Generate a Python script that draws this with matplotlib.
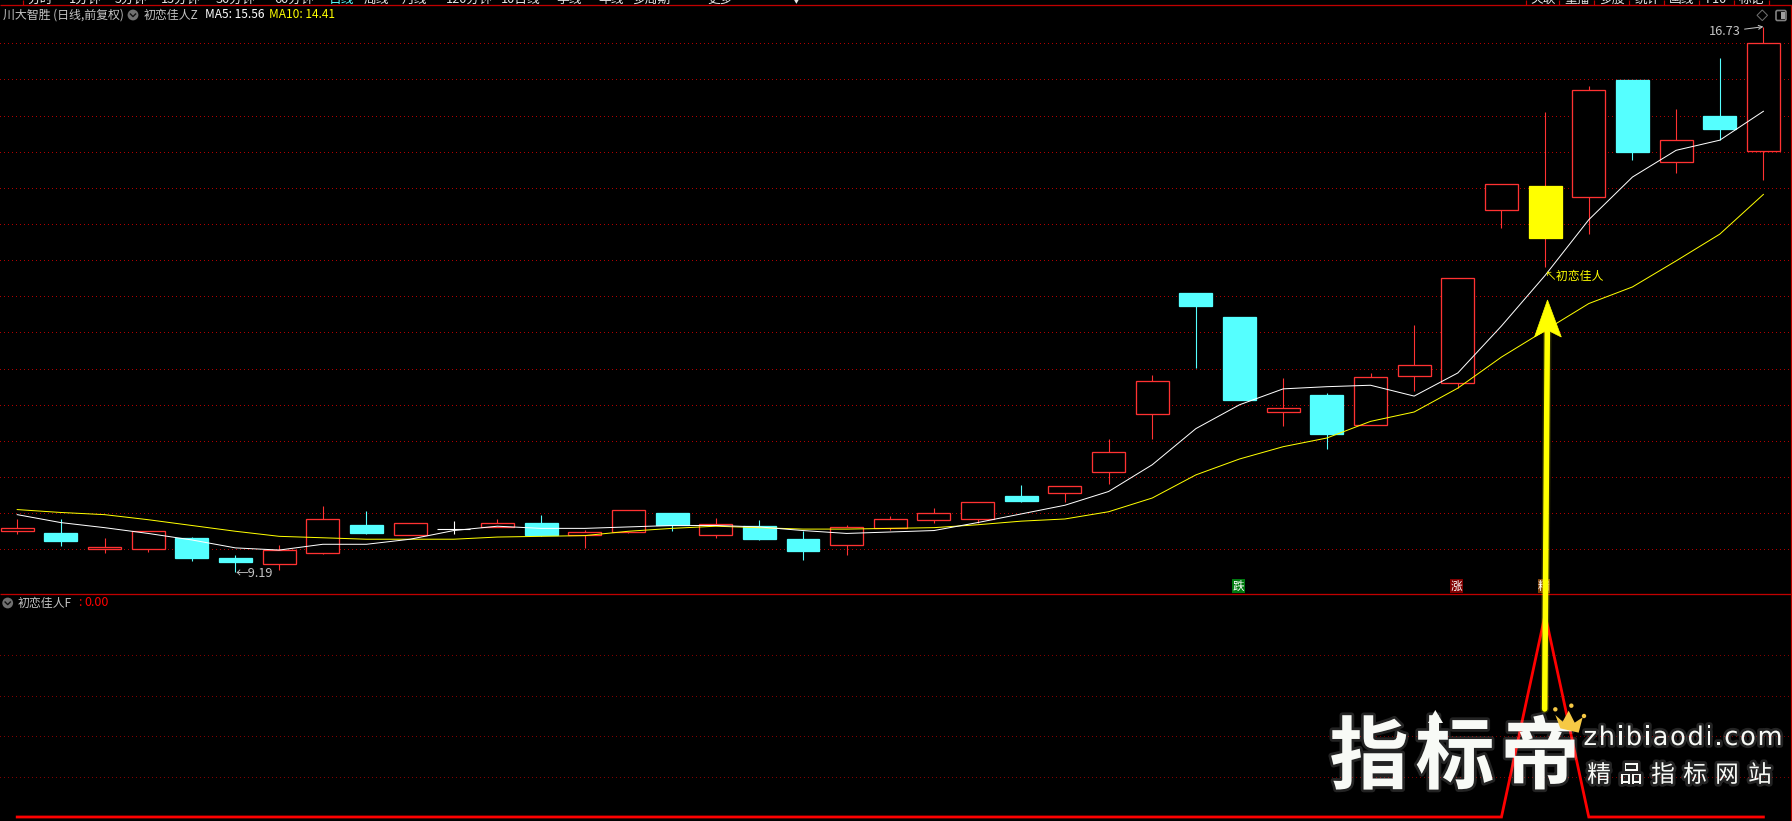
import matplotlib
matplotlib.use("Agg")
import matplotlib.pyplot as plt
import matplotlib.patheffects as pe
from matplotlib.patches import Polygon, Circle, FancyBboxPatch, Rectangle
import numpy as np

plt.rcParams['font.family'] = ['Noto Sans CJK SC', 'DejaVu Sans']

# ---------- data ----------
opens  = [9.76, 9.73, 9.50, 9.51, 9.66, 9.38, 9.30, 9.45, 9.84, 9.70, 9.78, 9.81, 9.86, 9.70,
          9.74, 10.00, 9.70, 9.82, 9.64, 9.56, 9.80, 9.91, 9.92, 10.24, 10.28, 10.57, 11.37,
          13.04, 12.71, 11.40, 11.64, 11.22, 11.90, 11.80, 14.20, 14.53, 14.38, 15.99, 14.86, 15.49, 15.01]
closes = [9.80, 9.62, 9.53, 9.75, 9.38, 9.33, 9.49, 9.92, 9.73, 9.87, 9.78, 9.86, 9.70, 9.74,
          10.05, 9.83, 9.85, 9.64, 9.48, 9.81, 9.92, 10.00, 10.15, 10.17, 10.37, 10.84, 11.83,
          12.86, 11.57, 11.45, 11.10, 11.89, 12.05, 13.25, 14.56, 13.81, 15.85, 15.00, 15.16, 15.31, 16.51]
highs  = [9.92, 9.92, 9.65, 9.75, 9.67, 9.42, 9.56, 10.10, 10.03, 9.87, 9.89, 9.92, 9.98, 9.77,
          10.05, 10.00, 9.93, 9.91, 9.76, 9.84, 9.96, 10.07, 10.15, 10.39, 10.37, 11.02, 11.91,
          13.04, 12.71, 11.87, 11.66, 11.94, 12.60, 13.25, 14.56, 15.55, 15.91, 15.99, 15.59, 16.30, 16.73]
lows   = [9.71, 9.54, 9.45, 9.47, 9.34, 9.19, 9.21, 9.43, 9.71, 9.70, 9.71, 9.81, 9.68, 9.52,
          9.72, 9.76, 9.66, 9.63, 9.35, 9.42, 9.77, 9.86, 9.86, 10.15, 10.16, 10.40, 11.03,
          12.01, 11.57, 11.21, 10.89, 11.22, 11.69, 11.73, 13.95, 13.41, 13.86, 14.89, 14.71, 15.16, 14.61]
ma5    = [9.98, 9.87, 9.80, 9.72, 9.63, 9.52, 9.49, 9.57, 9.57, 9.64, 9.76, 9.82, 9.79, 9.79,
          9.81, 9.83, 9.83, 9.81, 9.76, 9.72, 9.74, 9.76, 9.87, 9.99, 10.11, 10.30, 10.67,
          11.17, 11.50, 11.72, 11.75, 11.77, 11.62, 11.94, 12.59, 13.29, 14.06, 14.65, 15.02, 15.16, 15.56]
ma10   = [10.05, 10.01, 9.98, 9.91, 9.83, 9.75, 9.68, 9.66, 9.64, 9.64, 9.64, 9.67, 9.68, 9.69,
          9.75, 9.79, 9.82, 9.80, 9.78, 9.78, 9.79, 9.80, 9.84, 9.89, 9.92, 10.02, 10.21,
          10.53, 10.75, 10.92, 11.04, 11.27, 11.40, 11.73, 12.16, 12.53, 12.90, 13.13, 13.49, 13.86, 14.41]
signal = [0.0] * 41
signal[35] = 1.0
highlight_index = 35
fall_index, rise_index, best_index = 28, 33, 35
price_grid = [9.5, 10, 10.5, 11, 11.5, 12, 12.5, 13, 13.5, 14, 14.5, 15, 15.5, 16, 16.5]
signal_grid = [0.2, 0.4, 0.6, 0.8]
nav_left = ['分时', '1分钟', '5分钟', '15分钟', '30分钟', '60分钟', '日线', '周线', '月线',
            '120分钟', '10日线', '季线', '年线', '多周期', '更多', '▼']
nav_left_x = [27, 69, 115, 161, 216, 274, 329, 364, 402, 446, 501, 557, 598, 632, 707, 790]
nav_right = ['关联', '重播', '多股', '统计', '画线', 'F10', '标记']

# ---------- constants ----------
W, H = 1792, 821
RED = '#ff3232'
CYAN = '#55ffff'
YEL = '#ffff00'
GRID = '#b00000'
SEP = '#c00000'
GRAY = '#c4c4c4'
PX = 0.72  # one pixel in points at dpi 100

fig = plt.figure(figsize=(W / 100, H / 100), dpi=100, facecolor='black')

def add_axes_px(x0, y0, x1, y1, **kw):
    return fig.add_axes([x0 / W, 1 - y1 / H, (x1 - x0) / W, (y1 - y0) / H], **kw)

# ---------- price pane ----------
RIGHT = 1790.7
ax = add_axes_px(0, 5.3, RIGHT, 594.3, facecolor='black')
step = 43.655
ax.set_xlim(-17.2 / step, (RIGHT - 17.2) / step)
ax.set_ylim(8.878, 17.026)
ax.set_yticks(price_grid)
ax.set_yticks(np.arange(9, 17, 0.25), minor=True)
ax.set_xticks([])
ax.grid(axis='y', which='major', color=GRID, lw=PX, linestyle=(0, (1, 3)), antialiased=False)
ax.yaxis.tick_right()
ax.tick_params(axis='y', which='both', right=True, left=False, labelright=False,
               color=SEP, length=1.5, width=PX, direction='out')
ax.set_axisbelow(True)
for s in ['left', 'top', 'bottom']:
    ax.spines[s].set_visible(False)
ax.spines['right'].set_color(SEP)
ax.spines['right'].set_linewidth(1.2 * PX)

width = 0.755
for i, (o, c, h, l) in enumerate(zip(opens, closes, highs, lows)):
    if i == highlight_index:
        wick, face, edge = RED, YEL, YEL
    elif o == c:
        wick, face, edge = 'white', 'white', 'white'
    elif c > o:
        wick, face, edge = RED, 'black', RED
    else:
        wick, face, edge = CYAN, CYAN, CYAN
    ax.vlines(i, l, h, color=wick, lw=1.1 * PX, zorder=2)
    if o == c:
        ax.hlines(o, i - width / 2, i + width / 2, color='white', lw=1.1 * PX, zorder=3)
    else:
        ax.add_patch(Rectangle((i - width / 2, min(o, c)), width, abs(c - o),
                               facecolor=face, edgecolor=edge, lw=1.3 * PX, zorder=3))

xs = np.arange(len(ma5))
ax.plot(xs, ma10, color=YEL, lw=PX, zorder=4)
ax.plot(xs, ma5, color='white', lw=PX, zorder=5)

ax.annotate('←9.19', xy=(5, min(lows)), xytext=(0, -2), textcoords='offset pixels',
            color=GRAY, fontsize=9.2, ha='left', va='center', zorder=6)
ax.annotate('16.73', xy=(40, max(highs)), xytext=(-23, -5), textcoords='offset pixels',
            color=GRAY, fontsize=9.2, ha='right', va='center', zorder=6,
            arrowprops=dict(arrowstyle='->', color=GRAY, lw=PX, shrinkA=1, shrinkB=0,
                            mutation_scale=7))
ax.annotate('↖初恋佳人', xy=(35, ma5[35]), xytext=(0, -1), textcoords='offset pixels',
            color=YEL, fontsize=8.6, ha='left', va='center', zorder=6)

xt = ax.get_xaxis_transform()
for idx, ch, col in [(fall_index, '跌', '#007a10'), (rise_index, '涨', '#800000'),
                     (best_index, '精', '#7a3e08')]:
    ax.text(idx - 0.03, 0.0141, ch, transform=xt, color='white', fontsize=8.4, ha='center',
            va='center', zorder=6,
            bbox=dict(boxstyle='square,pad=0.04', facecolor=col, edgecolor='none'))

# ---------- signal pane ----------
bx = add_axes_px(0, 594.3, RIGHT, H, facecolor='black')
bx.set_xlim(ax.get_xlim())
bx.set_ylim(-4 / 202.5, (817 - 594.3) / 202.5)
bx.set_yticks(signal_grid)
bx.set_xticks([])
bx.grid(axis='y', color='#800000', lw=PX, linestyle=(0, (1, 4)), antialiased=False)
bx.set_axisbelow(True)
bx.yaxis.tick_right()
bx.tick_params(axis='y', right=True, left=False, labelright=False, color=SEP, length=1.5, width=PX)
for s in ['left', 'bottom', 'top']:
    bx.spines[s].set_visible(False)
bx.spines['right'].set_color(SEP)
bx.spines['right'].set_linewidth(1.2 * PX)
bx.plot(np.arange(len(signal)), signal, color='#ff0000', lw=2.0, solid_joinstyle='miter')

# ---------- overlay in pixel coordinates for chrome and watermark ----------
ov = fig.add_axes([0, 0, 1, 1], facecolor='none', zorder=10)
ov.set_xlim(0, W)
ov.set_ylim(H, 0)
ov.axis('off')

def label(x, y, s, color=GRAY, size=8.6, ha='left', va='center', **kw):
    return ov.text(x, y, s, color=color, fontsize=size, ha=ha, va=va, clip_on=False, **kw)

# pane separators
ov.hlines([5.3, 594.3], 0, W, color=SEP, lw=1.3 * PX)

# top navigation, cut by the upper edge of the window as in the screenshot
for s, x in zip(nav_left, nav_left_x):
    label(x, 3.2, s, color=(CYAN if s == '日线' else '#e8e8e8'), size=9.2, va='baseline')
ov.vlines(23, 0, 5.3, color=SEP, lw=1.2 * PX)
cell_x = [1526, 1559.3, 1594.3, 1629.3, 1664.3, 1699.3, 1734.3, 1769.3]
for x in cell_x:
    ov.vlines(x, 0, 5.3, color=SEP, lw=1.2 * PX)
for s, x0, x1 in zip(nav_right, cell_x[:-1], cell_x[1:]):
    label((x0 + x1) / 2, 3.2, s, color='#e8e8e8', size=9.2, ha='center', va='baseline')

# legend row
label(3, 15, '川大智胜 (日线,前复权)')
label(144, 15, '初恋佳人Z')
label(205, 15, f'MA5: {ma5[-1]:.2f}', color='white')
label(269, 15, f'MA10: {ma10[-1]:.2f}', color=YEL)
label(18, 603, '初恋佳人F')
label(78, 603, ':', color='#ff0000')
label(84.5, 603, f'{signal[0]:.2f}', color='#ff0000', size=9.0)

for cx, cy in [(133, 15), (7.7, 603)]:
    ov.add_patch(Circle((cx, cy), 5.4, facecolor='#707070', edgecolor='none'))
    ov.plot([cx - 2.6, cx, cx + 2.6], [cy - 1, cy + 1.6, cy - 1], color='#101010', lw=1.0)

# top-right icons
ov.add_patch(Polygon([(1762.3, 10), (1767.5, 15.3), (1762.3, 20.6), (1757, 15.3)],
                     closed=True, facecolor='none', edgecolor='#707070', lw=PX))
ov.add_patch(FancyBboxPatch((1776, 10.5), 10, 10, boxstyle='round,pad=0,rounding_size=1.5',
                            facecolor='none', edgecolor='#808080', lw=1.2))
ov.add_patch(Rectangle((1781, 12), 3.5, 7, facecolor='#a0a0a0', edgecolor='none'))

# big yellow arrow
glow = [pe.withStroke(linewidth=6, foreground='#ffff00', alpha=0.18)]
ov.plot([1544.7, 1547.3], [709, 332], color=YEL, lw=4.0, solid_capstyle='round', path_effects=glow)
ov.add_patch(Polygon([(1547.5, 300), (1561.3, 337), (1547.3, 330), (1534.5, 337)], closed=True,
                     facecolor=YEL, edgecolor=YEL, lw=0.5))

# watermark
soft = [pe.withStroke(linewidth=4, foreground='#ffffff', alpha=0.14)]
WHITE = '#f8faf6'
for s, x in zip('指标帝', [1369, 1455, 1540]):
    ov.text(x, 759, s, color=WHITE, fontsize=57, fontweight='bold', ha='center', va='center',
            path_effects=soft)
ov.add_patch(Polygon([(1435.3, 710), (1443, 723), (1439, 723), (1439, 742), (1432, 742),
                      (1432, 723), (1428, 723)], closed=True, facecolor=WHITE, edgecolor='none',
                     zorder=5))
crown = [(790, 405), (812, 425), (830, 392), (848, 428), (872, 412), (860, 458), (805, 445)]
ov.add_patch(Polygon([(1292 + a / 3, 580 + b / 3) for a, b in crown], closed=True,
                     facecolor='#f6c945', edgecolor='none', zorder=5))
for a, b in [(790, 388), (838, 377), (876, 408)]:
    ov.add_patch(Circle((1292 + a / 3, 580 + b / 3), 2.2, facecolor='#f6c945', edgecolor='none',
                        zorder=5))

renderer = fig.canvas.get_renderer()
cursor = 1583.5
for ch in 'zhibiaodi.com':
    t = ov.text(cursor, 745, ch, color=WHITE, fontsize=18.5, family='DejaVu Sans',
                ha='left', va='baseline', path_effects=soft)
    cursor += t.get_window_extent(renderer).width + 1.7

for s, x in zip('精品指标网站', [1599, 1631, 1663, 1695, 1727, 1760]):
    ov.text(x, 775.5, s, color=WHITE, fontsize=17, ha='center', va='center', path_effects=soft)

fig.savefig('out.png', dpi=100, facecolor='black')
